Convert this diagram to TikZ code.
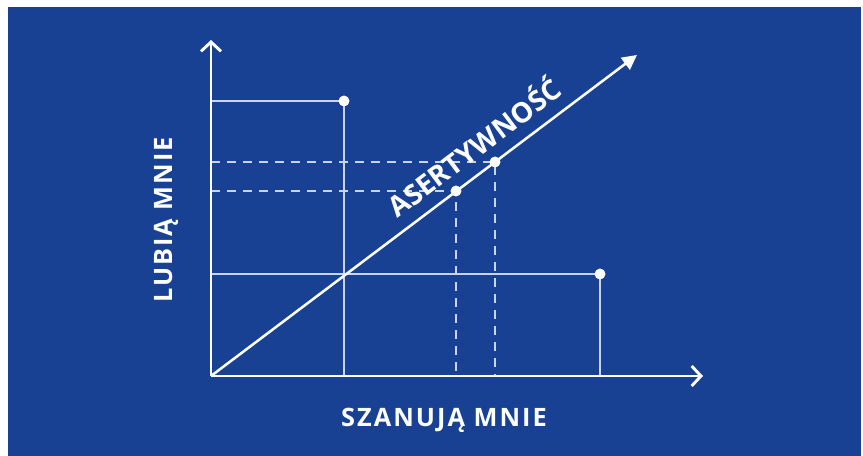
\documentclass[tikz,border=0pt]{standalone}
\usepackage{fontspec}
\newfontfamily\capsfont{Open Sans}[LetterSpace=8]
\newfontfamily\slantfont{Open Sans}
\usetikzlibrary{arrows.meta}
\definecolor{bgblue}{RGB}{24,65,147}
\definecolor{guide}{RGB}{205,212,232}
\tikzset{
  axis/.style={line width=2.2pt, white, -{Straight Barb[length=7pt, width=15pt]}},
  diag/.style={line width=1.9pt, white, -{Triangle[length=11pt, width=11pt]}},
  guideline/.style={line width=1.5pt, guide},
  guidedash/.style={guideline, dash pattern=on 7pt off 5pt},
  dot/.style={circle, fill=white, inner sep=0pt, minimum size=8pt},
  axislabel/.style={white, inner sep=0pt, font=\capsfont\bfseries\fontsize{19}{22}\selectfont},
  diaglabel/.style={white, inner sep=0pt, font=\slantfont\bfseries\fontsize{21}{24}\selectfont},
}
\begin{document}
\begin{tikzpicture}[x=0.75pt, y=-0.75pt]
\useasboundingbox (0,0) rectangle (863,456);
\fill [bgblue] (8,7) rectangle (861,456);

\coordinate (O) at (211,376);
\coordinate (ytip) at (211,40);
\coordinate (xtip) at (703,376);
\coordinate (dtip) at (637,55);

\node [dot] (A) at (344,101) {};
\node [dot] (B) at (600,274) {};
\node [dot] (C) at (456,191) {};
\node [dot] (D) at (495,162) {};

% solid guides
\draw [guideline] (A -| O)--(A.center)--(A |- O);
\draw [guideline] (B -| O)--(B.center)--(B |- O);
% dashed guides
\draw [guidedash] (C -| O)--(C.center)--(C |- O);
\draw [guidedash] (D -| O)--(D.center)--(D |- O);

\draw [axis] (O)--(ytip);
\draw [axis] (O)--(xtip);
\draw [diag] (O)--(dtip);

\node [dot] at (A) {};
\node [dot] at (B) {};
\node [dot] at (C) {};
\node [dot] at (D) {};

\node [diaglabel, rotate=37] (asert) at (473,146) {ASERTYWNOŚĆ};
\node [axislabel, rotate=90] (lubia) at (166,220) {LUBIĄ MNIE};
\node [axislabel] (szanuja) at (444,420) {SZANUJĄ MNIE};
\end{tikzpicture}
\end{document}
